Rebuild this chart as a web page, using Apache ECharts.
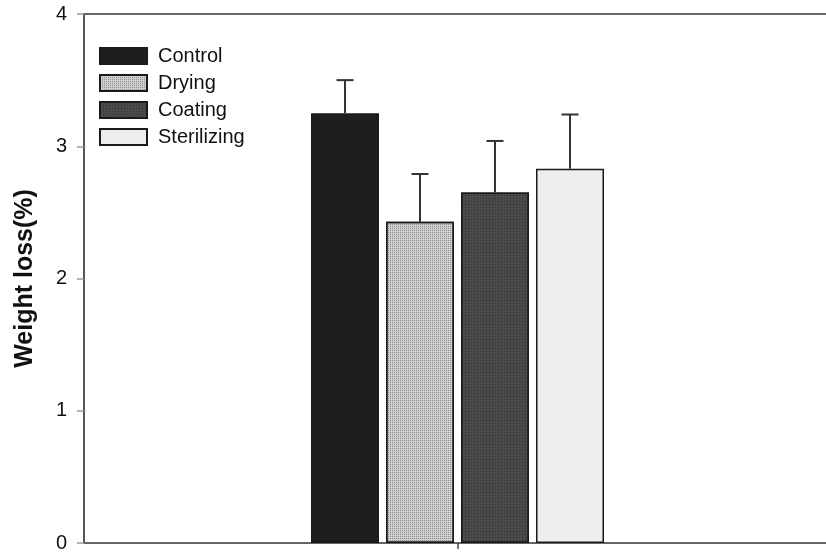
<!DOCTYPE html>
<html>
<head>
<meta charset="utf-8">
<script src="https://cdn.jsdelivr.net/npm/echarts@6/dist/echarts.min.js"></script>
<style>
  html, body { margin: 0; padding: 0; background: #fff; overflow: hidden; }
  /* the plot frame runs past the right edge of the page */
  #chart { width: 831px; height: 553px; }
</style>
</head>
<body>
<div id="chart"></div>
<script>
// Treatments and their mean weight loss (%) with standard deviations
const treatments = ['Control', 'Drying', 'Coating', 'Sterilizing'];
const meanLoss = [3.25, 2.43, 2.65, 2.83];
const sdLoss = [0.25, 0.36, 0.39, 0.41];
const yTicks = [0, 1, 2, 3, 4];

const BAR_W = 68;
const BAR_GAP = 7;
const FONT = '"Liberation Sans", Arial, sans-serif';

const fills = [
  { color: '#1e1e1e' },
  { color: '#cfcfcf', decal: { symbol: 'rect', symbolSize: 1, dashArrayX: [1, 1], dashArrayY: [1, 1], color: 'rgba(60,60,60,0.45)' } },
  { color: '#4a4a4a', decal: { symbol: 'rect', symbolSize: 1, dashArrayX: [1, 2], dashArrayY: [1, 2], color: 'rgba(20,20,20,0.5)' } },
  { color: '#eeeeee' }
];

const chart = echarts.init(document.getElementById('chart'), null, { renderer: 'canvas' });

const barSeries = treatments.map((name, i) => ({
  name: name,
  type: 'bar',
  data: [meanLoss[i]],
  barWidth: BAR_W,
  barGap: (BAR_GAP / BAR_W * 100).toFixed(1) + '%',
  itemStyle: Object.assign({ borderColor: '#1a1a1a', borderWidth: 1.5 }, fills[i]),
  z: 2
}));

// Upper error whiskers drawn on top of each bar
const errData = treatments.map((n, i) => [0, meanLoss[i], meanLoss[i] + sdLoss[i], i]);

const errSeries = {
  type: 'custom',
  name: 'sd',
  data: errData,
  encode: { x: 0, y: 2 },
  z: 3,
  silent: true,
  renderItem: function (params, api) {
    const idx = api.value(3);
    const off = (idx - (treatments.length - 1) / 2) * (BAR_W + BAR_GAP);
    const base = api.coord([0, api.value(1)]);
    const top = api.coord([0, api.value(2)]);
    const x = base[0] + off;
    const style = { stroke: '#333', lineWidth: 2 };
    return {
      type: 'group',
      children: [
        { type: 'line', shape: { x1: x, y1: base[1], x2: x, y2: top[1] }, style: style },
        { type: 'line', shape: { x1: x - 8.5, y1: top[1], x2: x + 8.5, y2: top[1] }, style: style }
      ]
    };
  }
};

chart.setOption({
  animation: false,
  backgroundColor: '#fff',
  grid: { left: 84, right: 0, top: 14, bottom: 10 },
  legend: {
    data: treatments,
    orient: 'vertical',
    left: 94, top: 41,
    itemWidth: 47, itemHeight: 16, itemGap: 7,
    icon: 'rect',
    textStyle: { fontFamily: FONT, fontSize: 20, color: '#111', padding: [0, 0, 0, 6] },
    selectedMode: false
  },
  xAxis: [{
    type: 'category',
    data: [''],
    axisLine: { show: true, lineStyle: { color: '#666', width: 2 } },
    axisTick: { show: true, alignWithLabel: true, length: 6, lineStyle: { color: '#444', width: 1.5 } },
    axisLabel: { show: false },
    splitLine: { show: false }
  }, {
    type: 'category',
    position: 'top',
    data: [''],
    axisLine: { show: true, lineStyle: { color: '#666', width: 2 } },
    axisTick: { show: false },
    axisLabel: { show: false },
    splitLine: { show: false }
  }],
  yAxis: {
    type: 'value',
    min: yTicks[0], max: yTicks[yTicks.length - 1], interval: 1,
    name: 'Weight loss(%)',
    nameLocation: 'middle',
    nameGap: 46,
    nameTextStyle: { fontFamily: FONT, fontSize: 25, fontWeight: 'bold', color: '#111' },
    axisLine: { show: true, lineStyle: { color: '#555', width: 2 } },
    axisTick: { show: true, length: 7, lineStyle: { color: '#999', width: 1.5 } },
    axisLabel: { fontFamily: FONT, fontSize: 20, color: '#111', margin: 17 },
    splitLine: { show: false }
  },
  series: barSeries.concat([errSeries])
});
</script>
</body>
</html>
